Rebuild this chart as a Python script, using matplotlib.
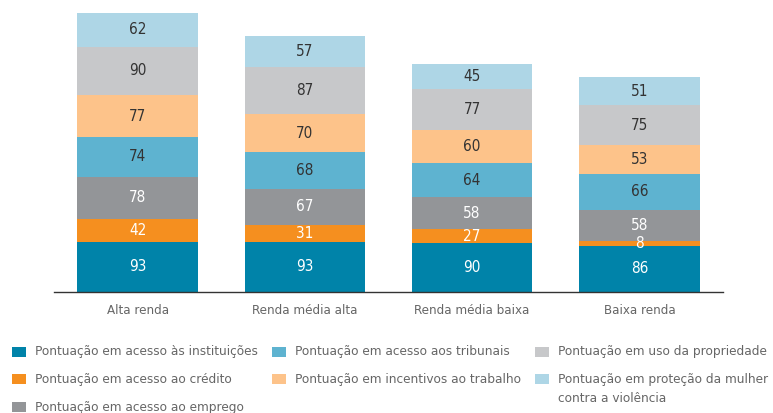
import matplotlib
matplotlib.use("Agg")
import matplotlib.pyplot as plt
from matplotlib.patches import Rectangle
import numpy as np

plt.rcParams['font.family'] = ['DejaVu Sans']
plt.rcParams['font.stretch'] = 'condensed'

categories = ["Alta renda", "Renda média alta", "Renda média baixa", "Baixa renda"]
series_names = [
    "Pontuação em acesso às instituições",
    "Pontuação em acesso ao crédito",
    "Pontuação em acesso ao emprego",
    "Pontuação em acesso aos tribunais",
    "Pontuação em incentivos ao trabalho",
    "Pontuação em uso da propriedade",
    "Pontuação em proteção da mulher\ncontra a violência",
]
instituicoes = [93, 93, 90, 86]
credito = [42, 31, 27, 8]
emprego = [78, 67, 58, 58]
tribunais = [74, 68, 64, 66]
incentivos = [77, 70, 60, 53]
propriedade = [90, 87, 77, 75]
mulher = [62, 57, 45, 51]

series = [instituicoes, credito, emprego, tribunais, incentivos, propriedade, mulher]
colors = ["#0083A9", "#F58F1F", "#939598", "#5EB3D0", "#FDC38A", "#C7C8CA", "#AED6E6"]
label_colors = ["white", "white", "white", "#333333", "#333333", "#333333", "#333333"]

W, H = 773, 413
fig = plt.figure(figsize=(W / 100, H / 100), dpi=100)
ax = fig.add_axes([54 / W, (H - 292) / H, (723 - 54) / W, (292 - 13) / H])

x = np.arange(len(categories))
bottom = np.zeros(len(categories))
for vals, c, lc in zip(series, colors, label_colors):
    vals = np.array(vals, dtype=float)
    ax.bar(x, vals, bottom=bottom, width=0.72, color=c, linewidth=0)
    for xi, v, b in zip(x, vals, bottom):
        ax.text(xi, b + v / 2, f"{int(v)}", ha="center", va="center",
                color=lc, fontsize=11)
    bottom += vals

ax.set_xlim(-0.5, 3.5)
ax.set_ylim(0, 516)
for s in ["top", "right", "left"]:
    ax.spines[s].set_visible(False)
ax.spines["bottom"].set_color("#333333")
ax.spines["bottom"].set_linewidth(1.0)
ax.set_yticks([])
ax.set_xticks(x)
ax.set_xticklabels(categories, fontsize=9.5, color="#666666")
ax.tick_params(axis="x", length=0, pad=9)

# legend
col_x = [12, 272, 535]
row_y = [352, 379, 407]
positions = [(0, 0), (0, 1), (0, 2), (1, 0), (1, 1), (2, 0), (2, 1)]
for (ci, ri), name, c in zip(positions, series_names, colors):
    sx = col_x[ci]
    sy = row_y[ri]
    fig.patches.append(Rectangle((sx / W, (H - sy - 5) / H), 14 / W, 10 / H,
                                 transform=fig.transFigure, color=c, linewidth=0))
    for li, line in enumerate(name.split("\n")):
        fig.text((sx + 23) / W, (H - sy - 20 * li) / H, line, ha="left", va="center",
                 fontsize=9.7, color="#666666")

fig.savefig("out.png", dpi=100)
